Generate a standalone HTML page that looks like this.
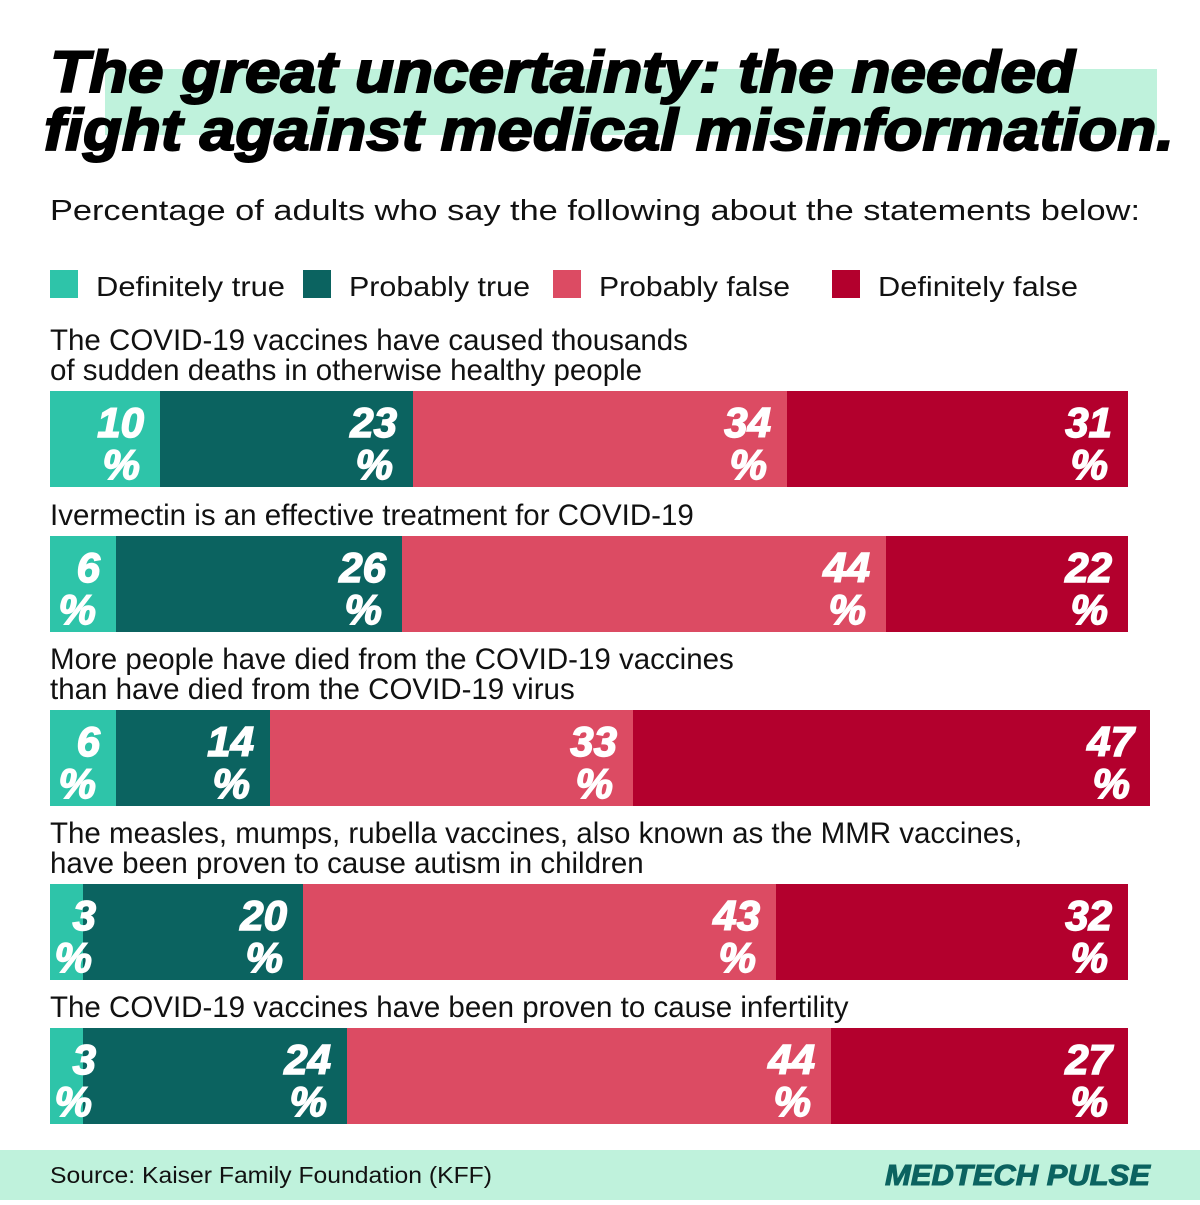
<!DOCTYPE html>
<html><head><meta charset="utf-8">
<style>
html,body{margin:0;padding:0;background:#fff;}
body{width:1200px;height:1200px;overflow:hidden;font-family:"Liberation Sans",sans-serif;}
svg text{font-family:"Liberation Sans",sans-serif;}
</style></head>
<body>
<svg id="chart" width="1200" height="1200" viewBox="0 0 1200 1200">
<rect x="105" y="69" width="1052" height="66" fill="#bff2dc"/>
<text x="50" y="92" font-size="58" font-weight="bold" font-style="italic" fill="#000" stroke="#000" stroke-width="2" textLength="1025" lengthAdjust="spacingAndGlyphs">The great uncertainty: the needed</text>
<text x="44" y="150" font-size="58" font-weight="bold" font-style="italic" fill="#000" stroke="#000" stroke-width="2" textLength="1130" lengthAdjust="spacingAndGlyphs">fight against medical misinformation.</text>
<text x="50" y="220" font-size="29" fill="#111" textLength="1090" lengthAdjust="spacingAndGlyphs">Percentage of adults who say the following about the statements below:</text>
<g id="legend"></g>
<g id="bars"></g>
<g id="labels"></g>
<rect x="0" y="1150" width="1200" height="50" fill="#bff2dc"/>
<text x="50" y="1183" font-size="23" fill="#111" textLength="442" lengthAdjust="spacingAndGlyphs">Source: Kaiser Family Foundation (KFF)</text>
<text x="1150" y="1185" font-size="29" font-weight="bold" font-style="italic" fill="#0b6360" stroke="#0b6360" stroke-width="1" text-anchor="end" textLength="265" lengthAdjust="spacingAndGlyphs">MEDTECH PULSE</text>
</svg>
<script>
const categories = [
  ["The COVID-19 vaccines have caused thousands","of sudden deaths in otherwise healthy people"],
  ["Ivermectin is an effective treatment for COVID-19"],
  ["More people have died from the COVID-19 vaccines","than have died from the COVID-19 virus"],
  ["The measles, mumps, rubella vaccines, also known as the MMR vaccines,","have been proven to cause autism in children"],
  ["The COVID-19 vaccines have been proven to cause infertility"]
];
const seriesNames = ["Definitely true","Probably true","Probably false","Definitely false"];
const definitelyTrue = [10,6,6,3,3];
const probablyTrue = [23,26,14,20,24];
const probablyFalse = [34,44,33,43,44];
const definitelyFalse = [31,22,47,32,27];
const series = [definitelyTrue, probablyTrue, probablyFalse, definitelyFalse];
const colors = ["#2ec4a9","#0b6360","#dc4b63","#b3002d"];

const NS = "http://www.w3.org/2000/svg";
const x0 = 50, pxPerPct = 11;
function xScale(v){ return x0 + v*pxPerPct; }
const barTops = [391, 536, 710, 884, 1028];
const barH = 96;

function mk(tag, attrs, parent){
  const e = document.createElementNS(NS, tag);
  for (const k in attrs) e.setAttribute(k, attrs[k]);
  parent.appendChild(e);
  return e;
}

const legend = document.getElementById('legend');
const legX = [50, 303, 553, 832];
const legW = [189, 181, 191, 200];
seriesNames.forEach((n,i)=>{
  const r = mk('rect',{x:legX[i],y:270,width:28,height:28,fill:colors[i]},legend);
  
  
  const t = mk('text',{x:legX[i]+46,y:296,'font-size':28,fill:'#111',textLength:legW[i],lengthAdjust:'spacingAndGlyphs'},legend);
  t.textContent = n;
  
  
});

const bars = document.getElementById('bars');
const labels = document.getElementById('labels');
categories.forEach((lines, ci)=>{
  const top = barTops[ci];
  lines.forEach((ln, li)=>{
    const t = mk('text',{x:50,y:top - 11 - (lines.length-1-li)*30,'font-size':29.5,fill:'#111'},bars);
    t.textContent = ln;
    
    
  });
  let cum = 0;
  series.forEach((s, si)=>{
    const v = s[ci];
    const xs = xScale(cum), xe = xScale(cum+v);
    const r = mk('rect',{x:xs,y:top,width:xe-xs,height:barH,fill:colors[si]},bars);
    
    
    const tx = Math.max(xe - 16, xs + 46);
    const n = mk('text',{x:tx,y:top+46,'font-size':42,'font-weight':'bold','font-style':'italic',fill:'#fff',stroke:'#fff','stroke-width':1.5,'text-anchor':'end'},labels);
    n.textContent = String(v);
    
    
    const p = mk('text',{x:tx-4,y:top+88,'font-size':42,'font-weight':'bold','font-style':'italic',fill:'#fff',stroke:'#fff','stroke-width':1.5,'text-anchor':'end'},labels);
    p.textContent = "%";
    
    
    cum += v;
  });
});
</script>
</body></html>
